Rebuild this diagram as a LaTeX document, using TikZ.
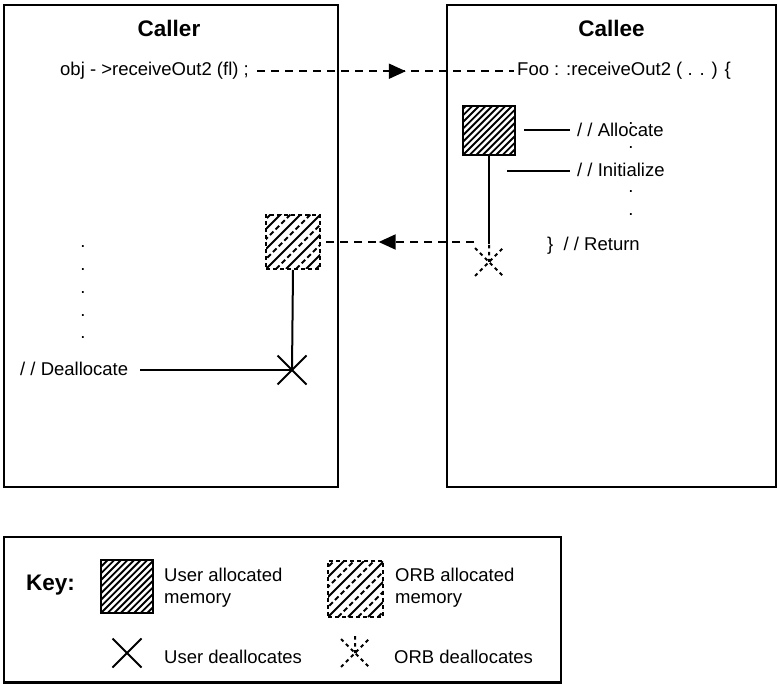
\documentclass[tikz,border=0pt]{standalone}
\usepackage{fontspec}
\setmainfont{Liberation Sans}
\usetikzlibrary{arrows.meta,decorations.markings}
\newcommand\bodyf{\fontsize{18.5}{22}\selectfont}
\newcommand\titlef{\fontsize{22.5}{26}\selectfont\bfseries}
\begin{document}
\begin{tikzpicture}[x=1pt,y=-1pt,
  panel/.style={draw, line width=2.5pt, inner sep=0},
  ttl/.style={font=\titlef, anchor=base, inner sep=0},
  txt/.style={font=\bodyf, anchor=base west, inner sep=0},
  dotmark/.style={font=\bodyf, anchor=base, inner sep=0},
  conn/.style={line width=2pt},
  dashconn/.style={line width=2pt, dash pattern=on 8pt off 6pt},
  midarrow/.style={postaction={decorate}, decoration={markings, mark=at position #1 with {\arrow{Triangle[length=17pt,width=15pt]}}}},
  usersq/.style={draw, line width=2pt, inner sep=0,
    path picture={\foreach \k in {-10,...,10}{\draw[solid, line width=1.9pt] ([xshift=\k*6.6pt]path picture bounding box.south west) -- ++(80pt,80pt);}}},
  orbsq/.style={draw, line width=2pt, dash pattern=on 4pt off 3pt, inner sep=0,
    path picture={\foreach \k in {-5,...,5}{\draw[solid, line width=1.9pt] ([xshift=\k*20pt]path picture bounding box.south west) -- ++(80pt,80pt);
      \draw[dash pattern=on 5pt off 3pt, line width=1.9pt] ([xshift=\k*20pt+10pt]path picture bounding box.south west) -- ++(80pt,80pt);}}},
  userxmark/.pic={\draw[line width=2pt] (-14.5pt,-14.5pt) -- (14.5pt,14.5pt) (-14.5pt,14.5pt) -- (14.5pt,-14.5pt);},
  orbxmark/.pic={\draw[line width=2pt, dash pattern=on 3.5pt off 3.5pt] (-14pt,-14pt) -- (14pt,14pt) (-14pt,14pt) -- (14pt,-14pt) (0pt,17pt) -- (0pt,0pt);},
]
\useasboundingbox (0,0) rectangle (777,684);

% panels
\node[panel, minimum width=334pt, minimum height=482pt] (caller) at (171,246) {};
\node[panel, minimum width=329pt, minimum height=482pt] (callee) at (611.5,246) {};
\node[panel, minimum width=557pt, minimum height=145.5pt] (key) at (282.5,609.75) {};

\node[ttl] (callerttl) at (169,37) {Caller};
\node[ttl] (calleettl) at (611.5,37) {Callee};

% texts
\node[txt] (calltxt) at (60,76) {obj - >receiveOut2 (fl) ;};
\node[txt] (footxt) at (517,76) {Foo : :receiveOut2 ( . . ) \{};
\node[txt] (alloctxt) at (577,137) {/ / Allocate};
\node[txt] (inittxt) at (577,177) {/ / Initialize};
\node[txt] (rettxt) at (547,251) {\}\ \ / / Return};
\node[txt] (dealloctxt) at (20,376) {/ / Deallocate};

% dots
\node[dotmark] (ed1) at (631,125) {.};
\node[dotmark] (ed2) at (631,149) {.};
\node[dotmark] (ed3) at (631,193) {.};
\node[dotmark] (ed4) at (631,216) {.};
\node[dotmark] (rd1) at (83,248) {.};
\node[dotmark] (rd2) at (83,271) {.};
\node[dotmark] (rd3) at (83,294) {.};
\node[dotmark] (rd4) at (83,317) {.};
\node[dotmark] (rd5) at (83,339) {.};

% memory squares
\node[usersq, minimum width=52pt, minimum height=49pt] (usq) at (489,130.5) {};
\node[orbsq, minimum width=54pt, minimum height=54pt] (osq) at (293,242) {};

% deallocation marks
\coordinate (ox) at (489,262);
\coordinate (ux) at (292,370);
\pic at (ox) {orbxmark};
\pic at (ux) {userxmark};

% connectors
\draw[dashconn, midarrow=0.585, shorten <=8pt, shorten >=3pt] (calltxt.east) -- (footxt.west |- calltxt.east);
\coordinate (retstart) at (474,242);
\draw[dashconn, midarrow=0.623] (retstart) -- (osq.east);
\draw[conn, shorten <=8pt, shorten >=7pt] (usq.east) -- (alloctxt.west |- usq.east);
\coordinate (initstart) at (507,171);
\draw[conn, shorten >=7pt] (initstart) -- (inittxt.west |- initstart);
\draw[conn] (usq.south) -- ([yshift=18pt]ox);
\draw[conn] (osq.south) -- (ux);
\draw[conn, shorten <=12pt] (dealloctxt.east |- ux) -- (ux);

% key
\node[font=\titlef, anchor=base west, inner sep=0] (keyttl) at (26,590) {Key:};
\node[usersq, minimum width=52pt, minimum height=53pt] (kusq) at (127,586.5) {};
\node[txt] (kut1) at (164,581) {User allocated};
\node[txt] (kut2) at (164,603) {memory};
\node[orbsq, minimum width=55pt, minimum height=56pt] (kosq) at (355.5,589) {};
\node[txt] (kot1) at (395,581) {ORB allocated};
\node[txt] (kot2) at (395,603) {memory};
\coordinate (kux) at (127,653);
\pic at (kux) {userxmark};
\node[txt] (kux1) at (164,663) {User deallocates};
\coordinate (kox) at (355,653);
\pic at (kox) {orbxmark};
\node[txt] (kox1) at (394,663) {ORB deallocates};
\end{tikzpicture}
\end{document}
